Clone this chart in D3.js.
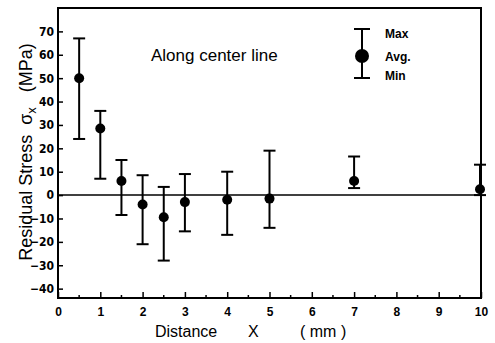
<!DOCTYPE html>
<html>
<head>
<meta charset="utf-8">
<script src="https://cdn.jsdelivr.net/npm/d3@7"></script>
<style>
  body { margin: 0; background: #fff; }
  svg { display: block; }
  text { font-family: "Liberation Sans", Arial, sans-serif; fill: #000; }
</style>
</head>
<body>
<svg id="chart" width="495" height="343"></svg>
<script>
// distance along center line (mm) and measured stress (MPa)
var distances = [0.5, 1, 1.5, 2, 2.5, 3, 4, 5, 7, 10];
var avgStress = [50, 28.5, 6, -4, -9.5, -3, -2, -1.5, 6, 2.5];
var maxStress = [67, 36, 15, 8.5, 3.5, 9, 10, 19, 16.5, 13];
var minStress = [24, 7, -8.5, -21, -28, -15.5, -17, -14, 3, 0];
var xTicks = [0, 1, 2, 3, 4, 5, 6, 7, 8, 9, 10];
var yTicks = [70, 60, 50, 40, 30, 20, 10, 0, -10, -20, -30, -40];

var svg = d3.select("#chart");
var plotL = 58, plotR = 481, plotT = 8, plotB = 298;

var x = d3.scaleLinear().domain([0, 10]).range([plotL, plotR]);
var y = d3.scaleLinear().domain([-44, 80]).range([plotB, plotT]);

// frame
svg.append("rect")
    .attr("x", plotL).attr("y", plotT)
    .attr("width", plotR - plotL).attr("height", plotB - plotT)
    .attr("fill", "none").attr("stroke", "#000").attr("stroke-width", 2);

// x axis, ticks inward
var xAxis = d3.axisBottom(x).tickValues(xTicks).tickSizeInner(-6).tickSizeOuter(0).tickPadding(9);
var gx = svg.append("g").attr("transform", "translate(0," + plotB + ")").call(xAxis);
gx.select(".domain").remove();
gx.selectAll("line").attr("stroke-width", 1.5);
gx.selectAll("text").style("font-size", "12px").style("font-weight", "bold");

// minor x ticks at the halves
var halves = d3.range(0.5, 10, 1);
svg.selectAll(".minor").data(halves).enter().append("line")
    .attr("x1", function(d){ return x(d); }).attr("x2", function(d){ return x(d); })
    .attr("y1", plotB).attr("y2", plotB - 3)
    .attr("stroke", "#000").attr("stroke-width", 1.5);

// y axis, ticks inward
var yAxis = d3.axisLeft(y).tickValues(yTicks).tickSizeInner(-5).tickSizeOuter(0).tickPadding(4);
var gy = svg.append("g").attr("transform", "translate(" + plotL + ",0)").call(yAxis);
gy.select(".domain").remove();
gy.selectAll("line").attr("stroke-width", 1.5);
gy.selectAll("text").style("font-size", "12px").style("font-weight", "bold")
    .style("font-family", "'DejaVu Sans Condensed', 'Liberation Sans Narrow', sans-serif")
    .text(function(d){ return d < 0 ? "\u2212" + Math.abs(d) : d; });

// zero line
svg.append("line")
    .attr("x1", plotL).attr("x2", plotR)
    .attr("y1", y(0)).attr("y2", y(0))
    .attr("stroke", "#000").attr("stroke-width", 1.5);

// error bars
var pts = distances.map(function(d, i){
    return {x: d, avg: avgStress[i], max: maxStress[i], min: minStress[i]};
});
var cap = 6;
var bars = svg.append("g").attr("stroke", "#000").attr("stroke-width", 2);
pts.forEach(function(p){
    var px = x(p.x);
    if (p.x == 10) px = px - 1;
    bars.append("line").attr("x1", px).attr("x2", px).attr("y1", y(p.max)).attr("y2", y(p.min));
    bars.append("line").attr("x1", px - cap).attr("x2", px + cap).attr("y1", y(p.max)).attr("y2", y(p.max));
    bars.append("line").attr("x1", px - cap).attr("x2", px + cap).attr("y1", y(p.min)).attr("y2", y(p.min));
});
svg.selectAll(".dot").data(pts).enter().append("circle")
    .attr("cx", function(d){ return d.x == 10 ? x(d.x) - 1 : x(d.x); })
    .attr("cy", function(d){ return y(d.avg); })
    .attr("r", 5).attr("fill", "#000");

// legend
var lx = 362;
var lg = svg.append("g").attr("stroke", "#000").attr("stroke-width", 2);
lg.append("line").attr("x1", lx).attr("x2", lx).attr("y1", 29).attr("y2", 78);
lg.append("line").attr("x1", lx - 8).attr("x2", lx + 8).attr("y1", 29).attr("y2", 29);
lg.append("line").attr("x1", lx - 8).attr("x2", lx + 8).attr("y1", 78).attr("y2", 78);
svg.append("circle").attr("cx", lx).attr("cy", 56).attr("r", 7).attr("fill", "#000");
[["Max", 38], ["Avg.", 61], ["Min", 80]].forEach(function(t){
    svg.append("text").attr("x", 385).attr("y", t[1])
        .style("font-size", "12px").style("font-weight", "bold").text(t[0]);
});

// annotation
svg.append("text").attr("x", 151).attr("y", 61)
    .style("font-size", "17px").text("Along center line");

// axis titles
[["Distance", 155], ["X", 248], ["( mm )", 300]].forEach(function(t){
    svg.append("text").attr("x", t[1]).attr("y", 337)
        .style("font-size", "16px").text(t[0]);
});

svg.append("text")
    .attr("transform", "translate(32,152) rotate(-90)")
    .attr("text-anchor", "middle")
    .style("font-size", "18px").attr("xml:space", "preserve")
    .html("Residual Stress  \u03C3<tspan dy='4' font-size='13'>x</tspan><tspan dy='-4'>   (MPa)</tspan>");
</script>
</body>
</html>
